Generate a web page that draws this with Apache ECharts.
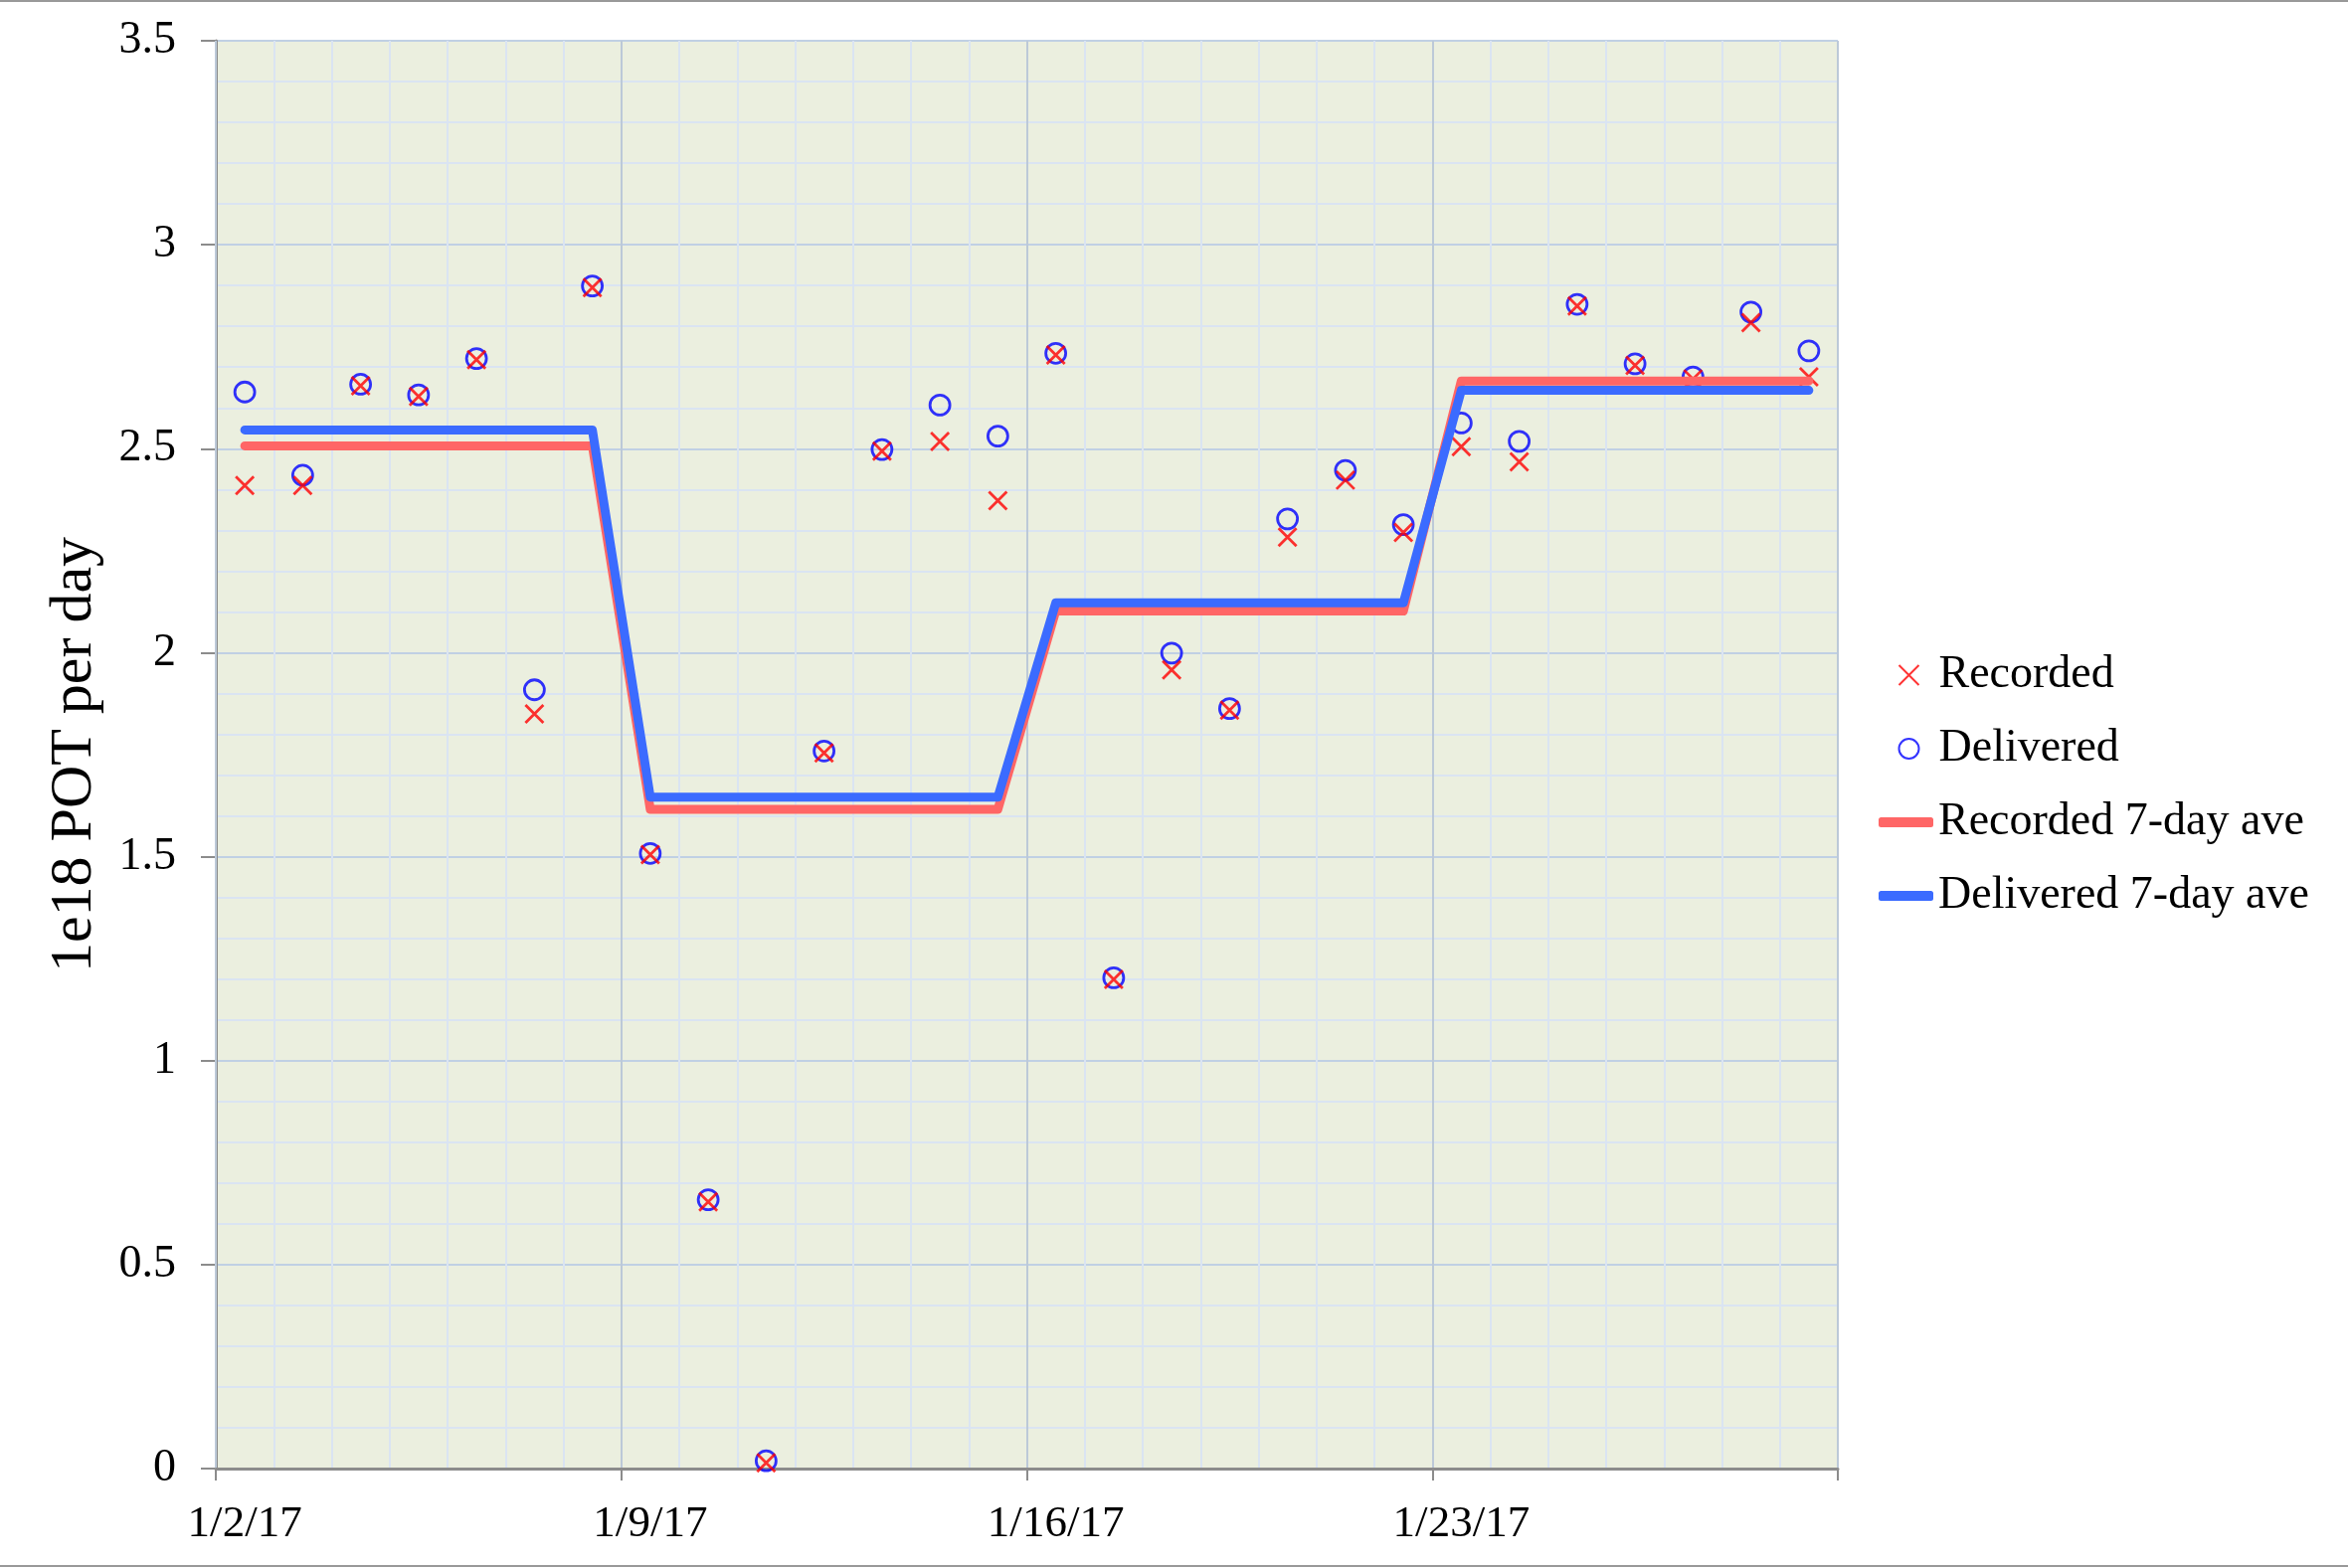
<!DOCTYPE html>
<html>
<head>
<meta charset="utf-8">
<script src="https://cdn.jsdelivr.net/npm/echarts@6/dist/echarts.min.js"></script>
<style>
html,body{margin:0;padding:0;background:#fff;}
#chart{width:2361px;height:1577px;}
</style>
</head>
<body>
<div id="chart"></div>
<script>
const days = ['1/2/17','1/3/17','1/4/17','1/5/17','1/6/17','1/7/17','1/8/17',
  '1/9/17','1/10/17','1/11/17','1/12/17','1/13/17','1/14/17','1/15/17',
  '1/16/17','1/17/17','1/18/17','1/19/17','1/20/17','1/21/17','1/22/17',
  '1/23/17','1/24/17','1/25/17','1/26/17','1/27/17','1/28/17','1/29/17'];
const delivered = [2.639, 2.435, 2.658, 2.632, 2.721, 1.909, 2.899,
  1.508, 0.659, 0.019, 1.759, 2.498, 2.607, 2.531,
  2.734, 1.203, 1.999, 1.863, 2.328, 2.447, 2.314,
  2.563, 2.518, 2.854, 2.708, 2.676, 2.835, 2.740];
const recorded = [2.410, 2.410, 2.654, 2.628, 2.718, 1.850, 2.895,
  1.505, 0.654, 0.014, 1.754, 2.494, 2.518, 2.373,
  2.730, 1.199, 1.958, 1.859, 2.283, 2.423, 2.295,
  2.505, 2.468, 2.850, 2.704, 2.671, 2.809, 2.676];
const recordedAve = [2.507, 2.507, 2.507, 2.507, 2.507, 2.507, 2.507,
  1.616, 1.616, 1.616, 1.616, 1.616, 1.616, 1.616,
  2.102, 2.102, 2.102, 2.102, 2.102, 2.102, 2.102,
  2.666, 2.666, 2.666, 2.666, 2.666, 2.666, 2.666];
const deliveredAve = [2.546, 2.546, 2.546, 2.546, 2.546, 2.546, 2.546,
  1.646, 1.646, 1.646, 1.646, 1.646, 1.646, 1.646,
  2.122, 2.122, 2.122, 2.122, 2.122, 2.122, 2.122,
  2.643, 2.643, 2.643, 2.643, 2.643, 2.643, 2.643];
const yTicks = {min: 0, max: 3.5, interval: 0.5};
const yTitle = '1e18 POT per day';

const FONT = "'Liberation Serif','Times New Roman',serif";
const crossPath = 'path://M0,0L10,10M10,0L0,10';

const chart = echarts.init(document.getElementById('chart'), null, {renderer: 'canvas'});
chart.setOption({
  animation: false,
  backgroundColor: '#ffffff',
  textStyle: {fontFamily: FONT},
  grid: {left: 217, right: 513, top: 41, bottom: 100, show: true,
    backgroundColor: '#ebefdf', borderWidth: 0},
  graphic: [
    {type: 'line', shape: {x1: 0, y1: 1, x2: 2361, y2: 1}, style: {stroke: '#999999', lineWidth: 2}},
    {type: 'line', shape: {x1: 0, y1: 1575, x2: 2361, y2: 1575}, style: {stroke: '#999999', lineWidth: 2}}
  ],
  xAxis: [
    {
      type: 'value', min: 0, max: 28, interval: 7,
      axisLine: {show: true, onZero: false, lineStyle: {color: '#8c8c8c', width: 3}},
      axisTick: {show: true, length: 12, lineStyle: {color: '#8c8c8c', width: 2}},
      axisLabel: {show: false},
      splitLine: {show: true, lineStyle: {color: '#bcc9d8', width: 2}},
      minorTick: {show: false, splitNumber: 7},
      minorSplitLine: {show: true, lineStyle: {color: '#dae4f2', width: 2}},
      z: 1
    },
    {
      type: 'category', data: days, boundaryGap: true, position: 'bottom',
      axisLine: {show: false}, axisTick: {show: false},
      splitLine: {show: false},
      axisLabel: {
        interval: function (i) { return i % 7 === 0; },
        color: '#000', fontSize: 45, fontFamily: FONT, margin: 34
      }
    }
  ],
  yAxis: {
    type: 'value', min: yTicks.min, max: yTicks.max, interval: yTicks.interval,
    name: yTitle, nameLocation: 'middle', nameGap: 112, nameRotate: 90,
    nameTextStyle: {fontSize: 60, color: '#000', fontFamily: FONT},
    axisLine: {show: true, lineStyle: {color: '#8c8c8c', width: 3}},
    axisTick: {show: true, length: 15, lineStyle: {color: '#8c8c8c', width: 2}},
    axisLabel: {color: '#000', fontSize: 46, fontFamily: FONT, margin: 40},
    splitLine: {show: true, lineStyle: {color: '#c0d0e4', width: 2}},
    minorTick: {show: false, splitNumber: 5},
    minorSplitLine: {show: true, lineStyle: {color: '#dae4f2', width: 2}}
  },
  legend: [
    {
      data: [
        {name: 'Recorded', icon: crossPath},
        {name: 'Delivered', icon: 'circle'}
      ],
      orient: 'vertical', left: 1902, top: 649,
      itemWidth: 50, itemHeight: 20, itemGap: 24, symbolKeepAspect: true,
      textStyle: {fontSize: 46, color: '#000', fontFamily: FONT, lineHeight: 50},
      selectedMode: false
    },
    {
      data: [
        {name: 'Recorded 7-day ave', icon: 'roundRect'},
        {name: 'Delivered 7-day ave', icon: 'roundRect'}
      ],
      orient: 'vertical', left: 1884, top: 797,
      itemWidth: 55, itemHeight: 10, itemGap: 24,
      textStyle: {fontSize: 46, color: '#000', fontFamily: FONT, lineHeight: 50},
      selectedMode: false
    }
  ],
  series: [
    {
      name: 'Delivered', type: 'scatter', xAxisIndex: 1, yAxisIndex: 0,
      data: delivered, symbol: 'circle', symbolSize: 20,
      itemStyle: {color: 'none', borderColor: '#0000ff', borderWidth: 2.8},
      z: 3
    },
    {
      name: 'Recorded', type: 'scatter', xAxisIndex: 1, yAxisIndex: 0,
      data: recorded, symbol: crossPath, symbolSize: 18,
      itemStyle: {color: 'none', borderColor: '#ff0000', borderWidth: 2.8},
      z: 4
    },
    {
      name: 'Recorded 7-day ave', type: 'line', xAxisIndex: 1, yAxisIndex: 0,
      data: recordedAve, symbol: 'none', showSymbol: false,
      itemStyle: {color: '#ff6666'},
      lineStyle: {color: '#ff6666', width: 9, cap: 'round', join: 'round'},
      z: 5
    },
    {
      name: 'Delivered 7-day ave', type: 'line', xAxisIndex: 1, yAxisIndex: 0,
      data: deliveredAve, symbol: 'none', showSymbol: false,
      itemStyle: {color: '#3b6bff'},
      lineStyle: {color: '#3b6bff', width: 9, cap: 'round', join: 'round'},
      z: 6
    }
  ]
});
</script>
</body>
</html>
